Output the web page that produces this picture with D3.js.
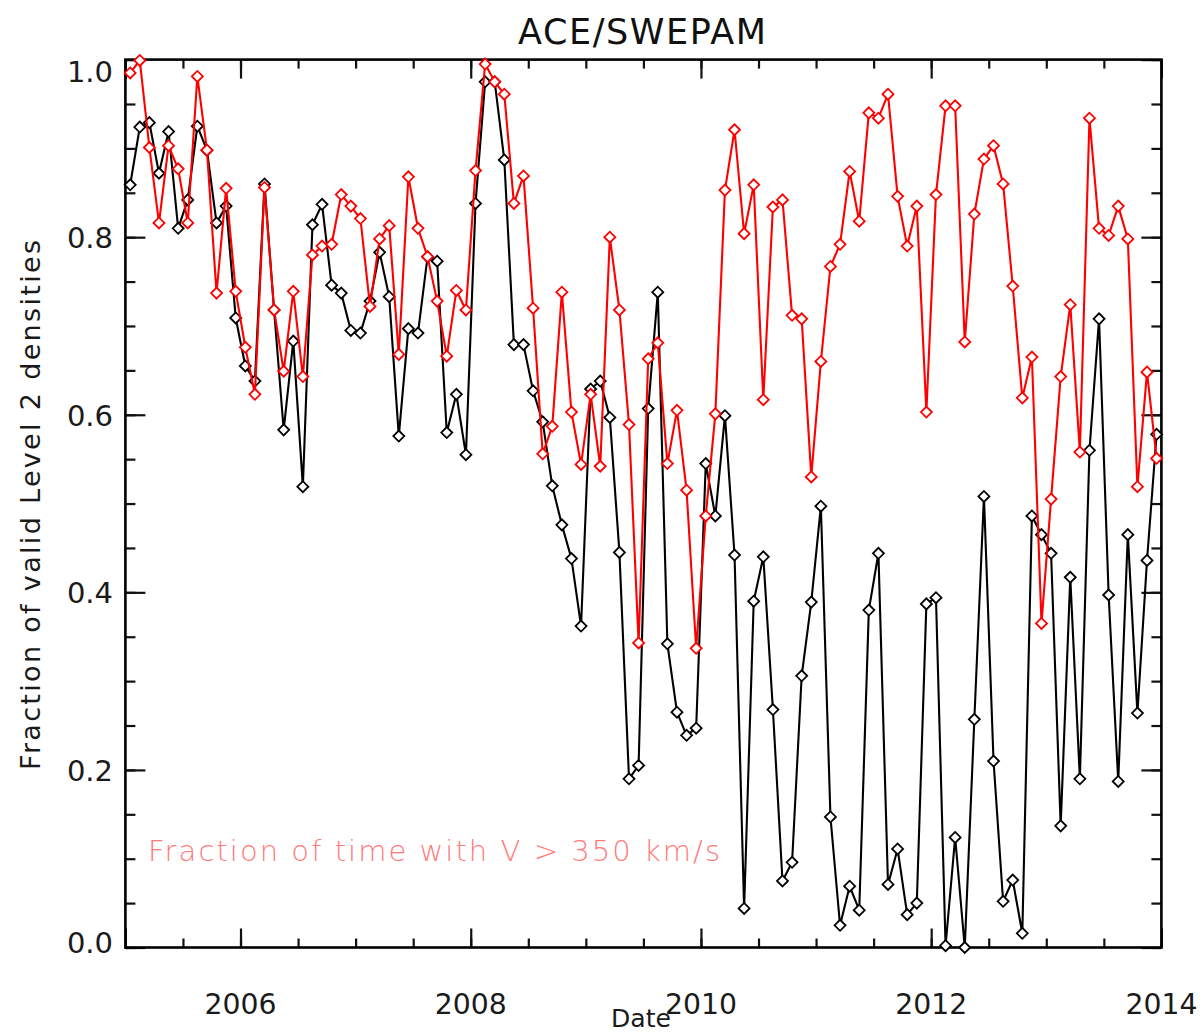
<!DOCTYPE html>
<html>
<head>
<meta charset="utf-8">
<script src="https://cdn.jsdelivr.net/npm/d3@7"></script>
<style>
  html, body { margin: 0; padding: 0; background: #fff; }
  svg { display: block; }
  text { font-family: "DejaVu Sans", sans-serif; }
</style>
</head>
<body>
<script>
// ---- Data (monthly, Jan 2005 .. Dec 2013) ----
const startYear = 2005;
const monthsCount = 108;

const validDensityFraction = [
  0.859, 0.924, 0.929, 0.872, 0.919, 0.810, 0.842, 0.925, 0.898, 0.816, 0.835, 0.709,
  0.655, 0.638, 0.860, 0.718, 0.583, 0.683, 0.519, 0.814, 0.837, 0.746, 0.737, 0.695,
  0.692, 0.728, 0.783, 0.733, 0.576, 0.697, 0.692, 0.778, 0.773, 0.580, 0.623, 0.555,
  0.838, 0.975, 0.975, 0.887, 0.679, 0.679, 0.627, 0.592, 0.520, 0.476, 0.438, 0.362,
  0.629, 0.638, 0.597, 0.445, 0.190, 0.205, 0.607, 0.738, 0.342, 0.265, 0.239, 0.247,
  0.545, 0.486, 0.599, 0.442, 0.044, 0.390, 0.440, 0.268, 0.075, 0.096, 0.306, 0.389,
  0.497, 0.147, 0.025, 0.069, 0.042, 0.380, 0.444, 0.071, 0.111, 0.037, 0.050, 0.387,
  0.394, 0.002, 0.124, 0.000, 0.257, 0.508, 0.210, 0.052, 0.076, 0.016, 0.486, 0.465,
  0.444, 0.137, 0.417, 0.190, 0.560, 0.708, 0.397, 0.187, 0.465, 0.264, 0.436, 0.578
];

const fastWindFraction = [
  0.985, 0.999, 0.901, 0.816, 0.903, 0.877, 0.816, 0.981, 0.898, 0.737, 0.855, 0.739,
  0.676, 0.623, 0.856, 0.718, 0.649, 0.739, 0.643, 0.780, 0.790, 0.792, 0.848, 0.835,
  0.821, 0.722, 0.798, 0.813, 0.668, 0.868, 0.810, 0.778, 0.728, 0.666, 0.740, 0.718,
  0.875, 0.995, 0.975, 0.961, 0.838, 0.869, 0.720, 0.556, 0.587, 0.738, 0.603, 0.544,
  0.623, 0.542, 0.800, 0.718, 0.589, 0.343, 0.663, 0.681, 0.545, 0.605, 0.515, 0.337,
  0.486, 0.601, 0.853, 0.921, 0.804, 0.859, 0.617, 0.834, 0.842, 0.712, 0.708, 0.530,
  0.660, 0.767, 0.792, 0.874, 0.818, 0.940, 0.934, 0.961, 0.846, 0.790, 0.835, 0.603,
  0.848, 0.948, 0.948, 0.682, 0.826, 0.888, 0.903, 0.860, 0.745, 0.619, 0.665, 0.365,
  0.505, 0.643, 0.724, 0.558, 0.934, 0.810, 0.802, 0.835, 0.798, 0.519, 0.648, 0.551
];

const xTickLabels = [2006, 2008, 2010, 2012, 2014];
const yTickLabels = ["0.0", "0.2", "0.4", "0.6", "0.8", "1.0"];

const titleText = "ACE/SWEPAM";
const xAxisTitle = "Date";
const yAxisTitle = "Fraction of valid Level 2 densities";
const annotationText = "Fraction of time with V > 350 km/s";

// ---- Layout ----
const W = 1203, H = 1035;
const L = 125.4, R = 1161.4, T = 59.6, B = 947.5;

const svg = d3.select("body").append("svg").attr("width", W).attr("height", H);

const x = d3.scaleLinear().domain([2005, 2014]).range([L, R]);
const y = d3.scaleLinear().domain([0, 1]).range([B, T]);

const months = d3.range(monthsCount).map(i => startYear + (i + 0.5) / 12);

// ---- Axes (ticks inward) ----
const minorX = d3.range(2005, 2014.001, 0.5);
const minorY = d3.range(0, 1.0001, 0.05);
const majorX = [2005].concat(xTickLabels);
const majorY = yTickLabels.map(Number);

function styleAxis(g) {
  g.select(".domain").remove();
  g.selectAll(".tick line").attr("stroke", "#111").attr("stroke-width", 2.2);
}

// bottom
svg.append("g").attr("transform", `translate(0,${B})`)
  .call(d3.axisBottom(x).tickValues(minorX).tickSize(-9).tickFormat(""))
  .call(styleAxis);
svg.append("g").attr("transform", `translate(0,${B})`)
  .call(d3.axisBottom(x).tickValues(majorX).tickSize(-19).tickFormat(""))
  .call(styleAxis);
// top
svg.append("g").attr("transform", `translate(0,${T})`)
  .call(d3.axisTop(x).tickValues(minorX).tickSize(-9).tickFormat(""))
  .call(styleAxis);
svg.append("g").attr("transform", `translate(0,${T})`)
  .call(d3.axisTop(x).tickValues(majorX).tickSize(-19).tickFormat(""))
  .call(styleAxis);
// left
svg.append("g").attr("transform", `translate(${L},0)`)
  .call(d3.axisLeft(y).tickValues(minorY).tickSize(-10).tickFormat(""))
  .call(styleAxis);
svg.append("g").attr("transform", `translate(${L},0)`)
  .call(d3.axisLeft(y).tickValues(majorY).tickSize(-20).tickFormat(""))
  .call(styleAxis);
// right
svg.append("g").attr("transform", `translate(${R},0)`)
  .call(d3.axisRight(y).tickValues(minorY).tickSize(-10).tickFormat(""))
  .call(styleAxis);
svg.append("g").attr("transform", `translate(${R},0)`)
  .call(d3.axisRight(y).tickValues(majorY).tickSize(-20).tickFormat(""))
  .call(styleAxis);

// frame
svg.append("rect")
  .attr("x", L).attr("y", T).attr("width", R - L).attr("height", B - T)
  .attr("fill", "none").attr("stroke", "#000").attr("stroke-width", 2.6);

// tick labels
svg.append("g").selectAll("text").data(xTickLabels).join("text")
  .attr("x", d => x(d)).attr("y", 1014)
  .attr("text-anchor", "middle")
  .attr("font-size", 29).attr("fill", "#1a1a1a")
  .attr("textLength", 72).attr("lengthAdjust", "spacingAndGlyphs")
  .text(d => String(d));

svg.append("g").selectAll("text").data(yTickLabels).join("text")
  .attr("x", 113)
  .attr("y", d => y(+d) + 11 + (d === "1.0" ? 11 : 0) + (d === "0.0" ? -6 : 0))
  .attr("text-anchor", "end")
  .attr("font-size", 29).attr("fill", "#1a1a1a")
  .text(d => d);

// titles
svg.append("text").attr("x", 642).attr("y", 44).attr("text-anchor", "middle")
  .attr("font-size", 35).attr("fill", "#111")
  .attr("textLength", 248).attr("lengthAdjust", "spacing")
  .text(titleText);

svg.append("text").attr("x", 641).attr("y", 1027).attr("text-anchor", "middle")
  .attr("font-size", 25).attr("fill", "#1a1a1a")
  .attr("textLength", 60).attr("lengthAdjust", "spacingAndGlyphs")
  .text(xAxisTitle);

svg.append("text")
  .attr("transform", "translate(40,505) rotate(-90)")
  .attr("text-anchor", "middle")
  .attr("font-size", 27).attr("fill", "#1a1a1a")
  .attr("textLength", 530).attr("lengthAdjust", "spacing")
  .text(yAxisTitle);

// annotation
svg.append("text")
  .attr("x", 148).attr("y", 861)
  .attr("font-size", 29).attr("font-weight", 200).attr("fill", "#ff7a7a")
  .attr("textLength", 572).attr("lengthAdjust", "spacing")
  .text(annotationText);

// ---- Series ----
const diamond = (cx, cy) => `M${cx - 5.5},${cy} L${cx},${cy - 5.5} L${cx + 5.5},${cy} L${cx},${cy + 5.5} Z`;

function drawSeries(values, color) {
  const pts = values.map((v, i) => [months[i], v]);
  const line = d3.line().x(d => x(d[0])).y(d => y(d[1]));
  const g = svg.append("g");
  g.append("path").datum(pts).attr("d", line)
    .attr("fill", "none").attr("stroke", color).attr("stroke-width", 2.1)
    .attr("stroke-linejoin", "round");
  g.selectAll("path.m").data(pts).join("path").attr("class", "m")
    .attr("d", d => diamond(x(d[0]), y(d[1])))
    .attr("fill", "#fff").attr("stroke", color).attr("stroke-width", 1.8);
}

drawSeries(validDensityFraction, "#000");
drawSeries(fastWindFraction, "#ff0000");
</script>
</body>
</html>
